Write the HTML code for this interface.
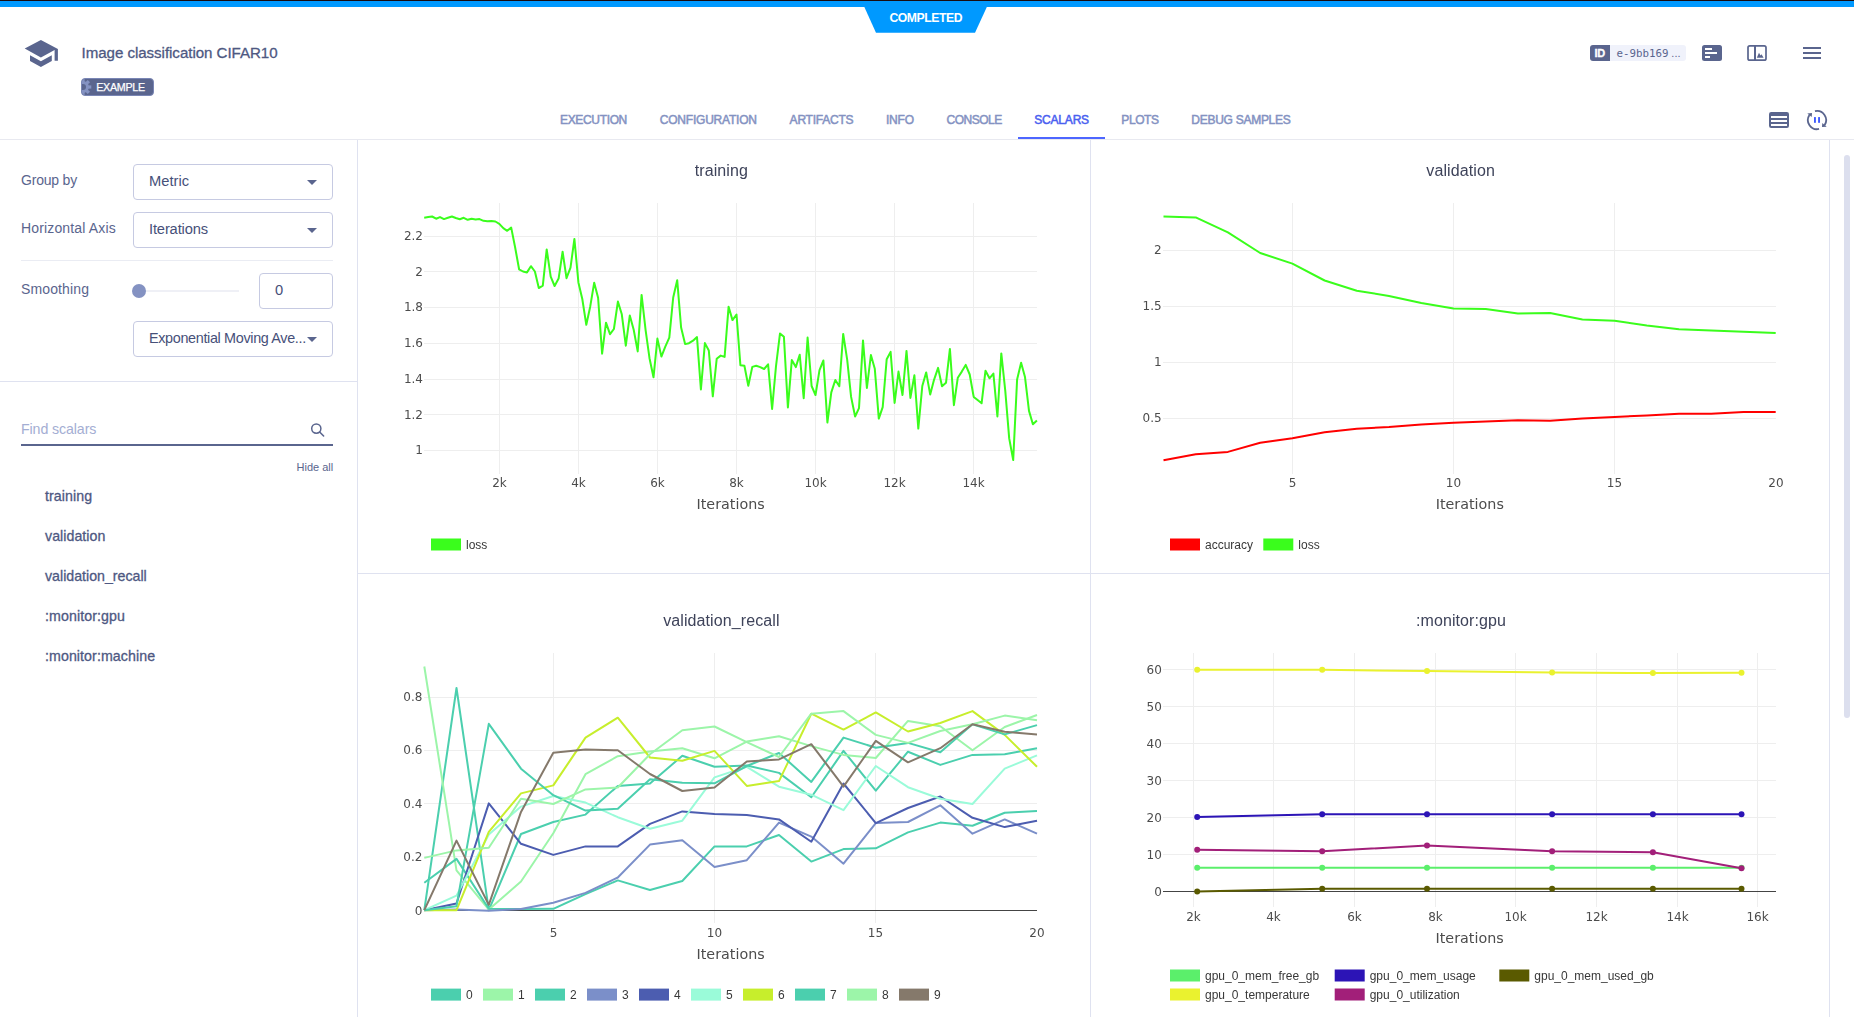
<!DOCTYPE html>
<html lang="en"><head><meta charset="utf-8"><title>Image classification CIFAR10 - Scalars</title>
<style>
html,body{margin:0;padding:0;background:#fff;}
body{width:1854px;height:1017px;position:relative;overflow:hidden;font-family:"Liberation Sans",Arial,sans-serif;color:#5a658e;}
.a{position:absolute;}
.t{position:absolute;white-space:nowrap;line-height:1;}
.ln{position:absolute;background:#dfe2f0;}
.tab{position:absolute;top:113.9px;font-size:12px;line-height:1;color:#8492c2;white-space:nowrap;-webkit-text-stroke:0.5px #8492c2;}
.tab.on{color:#4a5ff0;-webkit-text-stroke:0.5px #4a5ff0;}
.lbl{font-size:14px;color:#5a658e;}
.sel{position:absolute;box-sizing:border-box;border:1px solid #c6cae2;border-radius:4px;background:#fff;}
.sel .v{position:absolute;left:15px;font-size:14.7px;color:#465079;line-height:1;white-space:nowrap;}
.car{position:absolute;width:0;height:0;border-left:5px solid transparent;border-right:5px solid transparent;border-top:5px solid #5a658e;}
.it{font-size:14.2px;color:#4e5882;-webkit-text-stroke:0.3px #4e5882;}
svg text{font-family:"DejaVu Sans",Verdana,sans-serif;fill:#4c4c4c;}
svg text.lg{font-family:"Liberation Sans",Arial,sans-serif;font-size:12px;fill:#383838;}
svg text.ti{font-family:"Liberation Sans",Arial,sans-serif;font-size:16px;fill:#3e435a;letter-spacing:0.1px;}
</style></head><body>

<div class="a" style="left:0;top:0;width:1854px;height:1px;background:#1a0c10"></div>
<div class="a" style="left:0;top:1px;width:1854px;height:6px;background:#0099ff"></div>
<svg class="a" style="left:860px;top:6px" width="132" height="28" viewBox="860 6 132 28"><polygon points="863.9,6 987.3,6 975,32.8 876,32.8" fill="#0099ff"/></svg>
<div class="t" style="left:889.4px;top:12.2px;font-size:12.2px;font-weight:bold;color:#fff;letter-spacing:-0.42px" id="completed">COMPLETED</div>
<svg class="a" style="left:20px;top:36px" width="44" height="36" viewBox="20 36 44 36">
<polygon points="40.9,39.9 24.7,48.5 40.9,57.4 54.6,49.9 54.6,60.7 57.9,60.7 57.9,48.9" fill="#5a658e"/>
<polygon points="30,55.3 40.9,61.3 51.8,55.3 51.8,60.9 40.9,66.9 30,60.9" fill="#5a658e"/>
</svg>
<div class="t" id="title" style="left:81.5px;top:44.6px;font-size:15.1px;letter-spacing:-0.04px;color:#4e5882;-webkit-text-stroke:0.3px #4e5882">Image classification CIFAR10</div>
<div class="a" style="left:81px;top:78px;width:73px;height:18px;box-sizing:border-box;background:#5a658e;border:1px solid #7a86b5;border-radius:4px;overflow:hidden"><svg class="a" style="left:-9px;top:-2px" width="20" height="20" viewBox="-10 -10 20 20"><g fill="#8492c2"><circle r="5.9"/><rect x="-1.6" y="-8.3" width="3.2" height="3.6" transform="rotate(0)"/><rect x="-1.6" y="-8.3" width="3.2" height="3.6" transform="rotate(45)"/><rect x="-1.6" y="-8.3" width="3.2" height="3.6" transform="rotate(90)"/><rect x="-1.6" y="-8.3" width="3.2" height="3.6" transform="rotate(135)"/><rect x="-1.6" y="-8.3" width="3.2" height="3.6" transform="rotate(180)"/><rect x="-1.6" y="-8.3" width="3.2" height="3.6" transform="rotate(225)"/><rect x="-1.6" y="-8.3" width="3.2" height="3.6" transform="rotate(270)"/><rect x="-1.6" y="-8.3" width="3.2" height="3.6" transform="rotate(315)"/></g><circle r="3" fill="#5a658e"/></svg><div class="t" id="example" style="left:14.2px;top:2.9px;font-size:10.7px;letter-spacing:-0.27px;color:#fff;-webkit-text-stroke:0.25px #fff">EXAMPLE</div></div>
<div class="a" style="left:1590px;top:45px;width:20px;height:16px;background:#5a658e;border-radius:3px 0 0 3px"></div>
<div class="t" style="left:1594.6px;top:47.5px;font-size:11px;font-weight:bold;color:#fff;letter-spacing:-0.35px;-webkit-text-stroke:0.3px #fff">ID</div>
<div class="a" style="left:1610px;top:45px;width:76px;height:16px;background:#f0f2fb;border-radius:0 3px 3px 0"></div>
<div class="t" id="idtxt" style="left:1616.5px;top:47.7px;font-size:10.8px;font-family:'DejaVu Sans Mono','Liberation Mono',monospace;color:#5a658e">e-9bb169<span style="letter-spacing:0.1px;margin-left:2.8px;font-family:'Liberation Sans',sans-serif">...</span></div>
<svg class="a" style="left:1700px;top:40px" width="130" height="26" viewBox="1700 40 130 26">
<rect x="1702" y="45" width="20" height="16" rx="2.5" fill="#5a658e"/>
<rect x="1705" y="48" width="7" height="2" fill="#fff"/><rect x="1705" y="52" width="12" height="2" fill="#fff"/><rect x="1705" y="56" width="5" height="2" fill="#fff"/>
<rect x="1748" y="45.8" width="18" height="14.4" rx="1.8" fill="none" stroke="#5a658e" stroke-width="1.7"/>
<rect x="1754" y="46" width="2" height="14" fill="#5a658e"/>
<polygon points="1756.8,57.8 1759,52.8 1760.5,55.6 1761.5,54.2 1763.6,57.8" fill="#5a658e"/>
<rect x="1803" y="47" width="18" height="2" fill="#5a658e"/><rect x="1803" y="52" width="18" height="2" fill="#5a658e"/><rect x="1803" y="57" width="18" height="2" fill="#5a658e"/>
</svg>
<div class="tab" style="left:560.0px;letter-spacing:-0.34px">EXECUTION</div>
<div class="tab" style="left:659.8px;letter-spacing:-0.22px">CONFIGURATION</div>
<div class="tab" style="left:789.6px;letter-spacing:-0.22px">ARTIFACTS</div>
<div class="tab" style="left:885.9px;letter-spacing:-0.15px">INFO</div>
<div class="tab" style="left:946.6px;letter-spacing:-0.5px">CONSOLE</div>
<div class="tab on" style="left:1034.3px;letter-spacing:-0.2px">SCALARS</div>
<div class="tab" style="left:1121.3px;letter-spacing:-0.42px">PLOTS</div>
<div class="tab" style="left:1191.3px;letter-spacing:-0.27px">DEBUG SAMPLES</div>
<div class="a" style="left:1018px;top:137px;width:87px;height:2px;background:#4d66ff"></div>
<div class="ln" style="left:0;top:139px;width:1854px;height:1px;background:#e8e9f0"></div>
<svg class="a" style="left:1764px;top:106px" width="70" height="28" viewBox="1764 106 70 28">
<rect x="1769" y="112" width="20" height="16" rx="2.2" fill="#5a658e"/>
<rect x="1771" y="116" width="16" height="2" fill="#fff"/><rect x="1771" y="120" width="16" height="2" fill="#fff"/><rect x="1771" y="124" width="16" height="2" fill="#fff"/>
<g fill="none" stroke="#5a658e" stroke-width="1.8">
<path d="M1819.05,128.93 A9.1,9.1 0 0 1 1809.46,114.97"/>
<path d="M1814.95,111.19 A9.1,9.1 0 0 1 1824.54,125.15"/>
</g>
<polygon points="1807.3,113.4 1812.0,113.0 1811.7,117.0" fill="#5a658e"/>
<polygon points="1826.7,126.7 1822.0,127.1 1822.3,123.1" fill="#5a658e"/>
<rect x="1814" y="117.1" width="1.9" height="5.7" fill="#3d5afe"/><rect x="1818.1" y="117.1" width="1.9" height="5.7" fill="#3d5afe"/>
</svg>
<div class="ln" style="left:357px;top:140px;width:1px;height:877px"></div>
<div class="t lbl" style="left:21px;top:173.3px;letter-spacing:-0.2px">Group by</div>
<div class="sel" style="left:133px;top:164px;width:200px;height:36px"><div class="v" style="top:9.2px">Metric</div><div class="car" style="left:173px;top:14.7px"></div></div>
<div class="t lbl" style="left:21px;top:221.3px;letter-spacing:0.15px">Horizontal Axis</div>
<div class="sel" style="left:133px;top:212px;width:200px;height:36px"><div class="v" style="top:9.2px;letter-spacing:-0.15px">Iterations</div><div class="car" style="left:173px;top:14.7px"></div></div>
<div class="ln" style="left:21px;top:260px;width:312px;height:1px;background:#eaecf3"></div>
<div class="t lbl" style="left:21px;top:282.3px;letter-spacing:0.13px">Smoothing</div>
<div class="a" style="left:139px;top:290px;width:100px;height:2px;background:#eff0f6"></div>
<div class="a" style="left:132px;top:284px;width:14px;height:14px;border-radius:50%;background:#8492c2"></div>
<div class="sel" style="left:259px;top:273px;width:74px;height:36px"><div class="v" style="top:8.8px">0</div></div>
<div class="sel" style="left:133px;top:321px;width:200px;height:36px"><div class="v" style="top:9.4px;font-size:14.4px;letter-spacing:-0.34px">Exponential Moving Ave...</div><div class="car" style="left:173px;top:14.7px"></div></div>
<div class="ln" style="left:0;top:381px;width:357px;height:1px"></div>
<div class="t" style="left:21px;top:422px;font-size:14.2px;letter-spacing:-0.1px;color:#a4aed3">Find scalars</div>
<svg class="a" style="left:308px;top:420px" width="20" height="20" viewBox="308 420 20 20"><circle cx="316.3" cy="428.6" r="4.6" fill="none" stroke="#5a658e" stroke-width="1.5"/><path d="M319.6,432 L323.6,436" stroke="#5a658e" stroke-width="1.6" stroke-linecap="round"/></svg>
<div class="a" style="left:21px;top:444px;width:312px;height:2px;background:#5a658e"></div>
<div class="t" id="hideall" style="left:296.5px;top:462px;font-size:11px;color:#5a658e">Hide all</div>
<div class="t it" style="left:45px;top:489.2px;letter-spacing:0.08px">training</div>
<div class="t it" style="left:45px;top:529.2px;letter-spacing:0.04px">validation</div>
<div class="t it" style="left:45px;top:569.2px;letter-spacing:0px">validation_recall</div>
<div class="t it" style="left:45px;top:609.2px;letter-spacing:0.09px">:monitor:gpu</div>
<div class="t it" style="left:45px;top:649.2px;letter-spacing:0.08px">:monitor:machine</div>
<div class="ln" style="left:1090px;top:140px;width:1px;height:877px"></div>
<div class="ln" style="left:1829px;top:140px;width:1px;height:877px"></div>
<div class="ln" style="left:358px;top:573px;width:1471px;height:1px"></div>
<div class="a" style="left:1844px;top:155px;width:6px;height:563px;border-radius:3px;background:#dcdfee"></div>
<svg class="a" style="left:358px;top:140px;will-change:transform" width="1471" height="877" viewBox="358 140 1471 877">
<rect x="499" y="203" width="1" height="271.0" fill="#eee"/><rect x="578" y="203" width="1" height="271.0" fill="#eee"/><rect x="657" y="203" width="1" height="271.0" fill="#eee"/><rect x="736" y="203" width="1" height="271.0" fill="#eee"/><rect x="815" y="203" width="1" height="271.0" fill="#eee"/><rect x="894" y="203" width="1" height="271.0" fill="#eee"/><rect x="973" y="203" width="1" height="271.0" fill="#eee"/><rect x="424" y="236" width="613.0" height="1" fill="#eee"/><rect x="424" y="271" width="613.0" height="1" fill="#eee"/><rect x="424" y="307" width="613.0" height="1" fill="#eee"/><rect x="424" y="343" width="613.0" height="1" fill="#eee"/><rect x="424" y="379" width="613.0" height="1" fill="#eee"/><rect x="424" y="414" width="613.0" height="1" fill="#eee"/><rect x="424" y="450" width="613.0" height="1" fill="#eee"/>
<text x="423.0" y="240.0" font-size="12" text-anchor="end">2.2</text><text x="423.0" y="275.7" font-size="12" text-anchor="end">2</text><text x="423.0" y="311.4" font-size="12" text-anchor="end">1.8</text><text x="423.0" y="347.1" font-size="12" text-anchor="end">1.6</text><text x="423.0" y="382.8" font-size="12" text-anchor="end">1.4</text><text x="423.0" y="418.5" font-size="12" text-anchor="end">1.2</text><text x="423.0" y="454.2" font-size="12" text-anchor="end">1</text>
<text x="499.5" y="486.5" font-size="12" text-anchor="middle">2k</text><text x="578.5" y="486.5" font-size="12" text-anchor="middle">4k</text><text x="657.5" y="486.5" font-size="12" text-anchor="middle">6k</text><text x="736.5" y="486.5" font-size="12" text-anchor="middle">8k</text><text x="815.5" y="486.5" font-size="12" text-anchor="middle">10k</text><text x="894.5" y="486.5" font-size="12" text-anchor="middle">12k</text><text x="973.5" y="486.5" font-size="12" text-anchor="middle">14k</text>
<text x="730.6" y="509.3" font-size="14.3" text-anchor="middle">Iterations</text>
<text class="ti" x="721.3" y="176" text-anchor="middle">training</text>
<polyline points="424.2,217.8 428.2,217.1 432.1,216.5 436.1,218.7 440.0,217.1 444.0,219.1 447.9,217.8 451.9,216.5 455.8,218.0 459.8,219.2 463.7,217.8 467.7,219.8 471.6,218.7 475.6,219.5 479.5,219.1 483.5,220.8 487.4,221.2 491.4,220.9 495.4,221.5 499.3,223.8 503.3,228.2 507.2,230.8 511.2,227.6 515.1,247.2 519.1,269.3 523.0,271.5 527.0,272.4 530.9,266.2 534.9,271.5 538.8,288.1 542.8,285.6 546.7,249.4 550.7,276.6 554.6,286.0 558.6,278.6 562.6,251.7 566.5,278.2 570.5,267.7 574.4,238.9 578.4,282.4 582.3,299.0 586.3,324.8 590.2,306.7 594.2,282.7 598.1,297.7 602.1,353.7 606.0,322.7 610.0,334.2 613.9,329.0 617.9,301.6 621.8,314.3 625.8,345.7 629.8,315.4 633.7,329.7 637.7,351.4 641.6,294.9 645.6,330.1 649.5,358.2 653.5,377.3 657.4,338.6 661.4,356.6 665.3,346.7 669.3,337.7 673.2,297.5 677.2,280.2 681.1,327.5 685.1,344.1 689.0,343.2 693.0,340.7 697.0,337.1 700.9,389.5 704.9,343.1 708.8,350.5 712.8,396.3 716.7,358.8 720.7,355.6 724.6,356.9 728.6,306.7 732.5,320.1 736.5,314.5 740.4,365.2 744.4,365.8 748.3,385.7 752.3,366.9 756.2,365.8 760.2,367.1 764.1,369.0 768.1,364.3 772.1,409.0 776.0,366.2 780.0,333.4 783.9,336.8 787.9,407.4 791.8,360.1 795.8,367.1 799.7,354.7 803.7,398.2 807.6,337.5 811.6,386.0 815.5,395.0 819.5,370.1 823.4,360.5 827.4,422.5 831.3,392.4 835.3,380.0 839.3,386.3 843.2,333.9 847.2,359.8 851.1,396.9 855.1,416.5 859.0,408.1 863.0,340.4 866.9,388.0 870.9,355.0 874.8,368.8 878.8,418.6 882.7,407.1 886.7,359.2 890.6,351.9 894.6,403.0 898.5,371.6 902.5,395.0 906.5,350.9 910.4,397.9 914.4,375.2 918.3,428.6 922.3,386.0 926.2,372.4 930.2,394.6 934.1,379.6 938.1,367.9 942.0,386.3 946.0,382.8 949.9,348.9 953.9,405.2 957.8,377.7 961.8,371.6 965.7,364.9 969.7,374.5 973.7,396.9 977.6,400.1 981.6,403.3 985.5,370.7 989.5,378.3 993.4,373.6 997.4,416.4 1001.3,353.4 1005.3,391.1 1009.2,438.4 1013.2,460.1 1017.1,379.6 1021.1,362.7 1025.0,377.1 1029.0,410.9 1032.9,424.3 1036.9,420.5" fill="none" stroke="#3afd1c" stroke-width="2" stroke-linejoin="round"/>
<rect x="431" y="538.5" width="30" height="12" fill="#3afd1c"/><text class="lg" x="466" y="548.8">loss</text>
<rect x="1292" y="203" width="1" height="271.0" fill="#eee"/><rect x="1453" y="203" width="1" height="271.0" fill="#eee"/><rect x="1614" y="203" width="1" height="271.0" fill="#eee"/><rect x="1163" y="250" width="613.0" height="1" fill="#eee"/><rect x="1163" y="306" width="613.0" height="1" fill="#eee"/><rect x="1163" y="362" width="613.0" height="1" fill="#eee"/><rect x="1163" y="418" width="613.0" height="1" fill="#eee"/>
<text x="1161.7" y="254.0" font-size="12" text-anchor="end">2</text><text x="1161.7" y="310.0" font-size="12" text-anchor="end">1.5</text><text x="1161.7" y="366.0" font-size="12" text-anchor="end">1</text><text x="1161.7" y="422.0" font-size="12" text-anchor="end">0.5</text>
<text x="1292.5" y="486.5" font-size="12" text-anchor="middle">5</text><text x="1453.5" y="486.5" font-size="12" text-anchor="middle">10</text><text x="1614.5" y="486.5" font-size="12" text-anchor="middle">15</text><text x="1776.0" y="486.5" font-size="12" text-anchor="middle">20</text>
<text x="1469.8" y="509.3" font-size="14.3" text-anchor="middle">Iterations</text>
<text class="ti" x="1460.6" y="176" text-anchor="middle">validation</text>
<polyline points="1163.5,460.3 1195.7,454.2 1227.9,451.9 1260.2,442.7 1292.4,438.2 1324.6,432.3 1356.8,428.7 1389.0,427.0 1421.3,424.5 1453.5,422.8 1485.7,421.4 1517.9,420.3 1550.1,420.8 1582.4,418.6 1614.6,416.9 1646.8,415.5 1679.0,413.8 1711.2,413.8 1743.5,411.9 1775.7,412.1" fill="none" stroke="#ff0000" stroke-width="2" stroke-linejoin="round"/><polyline points="1163.5,216.6 1195.7,217.4 1227.9,232.3 1260.2,253.0 1292.4,263.6 1324.6,280.5 1356.8,290.8 1389.0,295.9 1421.3,302.9 1453.5,308.5 1485.7,309.0 1517.9,313.5 1550.1,313.0 1582.4,319.4 1614.6,320.8 1646.8,325.6 1679.0,329.2 1711.2,330.6 1743.5,331.7 1775.7,333.1" fill="none" stroke="#3afd1c" stroke-width="2" stroke-linejoin="round"/>
<rect x="1170" y="538.5" width="30" height="12" fill="#ff0000"/><text class="lg" x="1205" y="548.8">accuracy</text><rect x="1263.3" y="538.5" width="30" height="12" fill="#3afd1c"/><text class="lg" x="1298.3" y="548.8">loss</text>
<rect x="553" y="653" width="1" height="270.0" fill="#eee"/><rect x="714" y="653" width="1" height="270.0" fill="#eee"/><rect x="875" y="653" width="1" height="270.0" fill="#eee"/><rect x="424" y="697" width="613.0" height="1" fill="#eee"/><rect x="424" y="750" width="613.0" height="1" fill="#eee"/><rect x="424" y="803" width="613.0" height="1" fill="#eee"/><rect x="424" y="856" width="613.0" height="1" fill="#eee"/>
<rect x="424" y="910" width="613" height="1" fill="#444"/>
<text x="422.4" y="700.9" font-size="12" text-anchor="end">0.8</text><text x="422.4" y="754.3" font-size="12" text-anchor="end">0.6</text><text x="422.4" y="807.8" font-size="12" text-anchor="end">0.4</text><text x="422.4" y="861.2" font-size="12" text-anchor="end">0.2</text><text x="422.4" y="914.7" font-size="12" text-anchor="end">0</text>
<text x="553.5" y="937" font-size="12" text-anchor="middle">5</text><text x="714.5" y="937" font-size="12" text-anchor="middle">10</text><text x="875.5" y="937" font-size="12" text-anchor="middle">15</text><text x="1037.0" y="937" font-size="12" text-anchor="middle">20</text>
<text x="730.6" y="958.8" font-size="14.3" text-anchor="middle">Iterations</text>
<text class="ti" x="721.4" y="626" text-anchor="middle">validation_recall</text>
<polyline points="424.3,910.2 456.5,688.0 488.8,910.2 521.0,834.0 553.3,822.0 585.5,814.6 617.8,785.9 650.0,783.5 682.3,755.7 714.5,766.8 746.8,765.5 779.0,772.9 811.3,797.3 843.5,750.9 875.8,790.7 908.0,751.7 940.3,764.9 972.5,754.9 1004.7,754.3 1037.0,748.2" fill="none" stroke="#4bcfae" stroke-width="2" stroke-linejoin="round"/>
<polyline points="424.3,666.5 456.5,870.3 488.8,909.6 521.0,881.5 553.3,833.2 585.5,774.2 617.8,756.2 650.0,751.4 682.3,748.2 714.5,758.3 746.8,741.6 779.0,736.3 811.3,746.1 843.5,754.9 875.8,758.0 908.0,720.9 940.3,726.2 972.5,750.3 1004.7,727.0 1037.0,715.0" fill="none" stroke="#9cf5a9" stroke-width="2" stroke-linejoin="round"/>
<polyline points="424.3,882.8 456.5,858.9 488.8,908.8 521.0,909.1 553.3,908.8 585.5,894.2 617.8,880.4 650.0,890.0 682.3,881.0 714.5,846.4 746.8,846.4 779.0,835.0 811.3,861.6 843.5,849.1 875.8,848.3 908.0,832.4 940.3,822.6 972.5,825.7 1004.7,812.7 1037.0,811.1" fill="none" stroke="#4bcfae" stroke-width="2" stroke-linejoin="round"/>
<polyline points="424.3,910.2 456.5,909.6 488.8,910.7 521.0,909.1 553.3,902.7 585.5,892.9 617.8,877.5 650.0,844.6 682.3,840.3 714.5,866.9 746.8,860.2 779.0,822.6 811.3,836.6 843.5,863.7 875.8,823.1 908.0,822.0 940.3,805.3 972.5,833.7 1004.7,819.4 1037.0,833.7" fill="none" stroke="#7b8fc9" stroke-width="2" stroke-linejoin="round"/>
<polyline points="424.3,910.2 456.5,903.5 488.8,803.4 521.0,843.8 553.3,854.9 585.5,846.4 617.8,846.4 650.0,823.9 682.3,811.4 714.5,814.1 746.8,815.1 779.0,819.4 811.3,841.7 843.5,783.5 875.8,823.1 908.0,808.0 940.3,796.5 972.5,817.8 1004.7,827.1 1037.0,820.7" fill="none" stroke="#4c5db0" stroke-width="2" stroke-linejoin="round"/>
<polyline points="424.3,910.2 456.5,895.6 488.8,834.5 521.0,806.6 553.3,796.0 585.5,802.6 617.8,817.2 650.0,828.7 682.3,820.7 714.5,777.4 746.8,766.8 779.0,786.7 811.3,794.7 843.5,810.1 875.8,766.0 908.0,787.2 940.3,798.7 972.5,804.0 1004.7,768.7 1037.0,755.4" fill="none" stroke="#9afbd9" stroke-width="2" stroke-linejoin="round"/>
<polyline points="424.3,910.2 456.5,910.2 488.8,831.8 521.0,793.4 553.3,785.4 585.5,737.6 617.8,717.7 650.0,757.5 682.3,760.7 714.5,750.9 746.8,785.9 779.0,781.1 811.3,713.7 843.5,729.6 875.8,712.4 908.0,731.5 940.3,723.0 972.5,711.1 1004.7,734.9 1037.0,766.8" fill="none" stroke="#c7ee2c" stroke-width="2" stroke-linejoin="round"/>
<polyline points="424.3,910.2 456.5,906.2 488.8,723.8 521.0,768.7 553.3,795.2 585.5,810.6 617.8,808.7 650.0,779.3 682.3,782.7 714.5,783.3 746.8,766.0 779.0,753.0 811.3,781.9 843.5,737.6 875.8,747.7 908.0,742.9 940.3,752.2 972.5,724.3 1004.7,734.4 1037.0,725.1" fill="none" stroke="#4bcfae" stroke-width="2" stroke-linejoin="round"/>
<polyline points="424.3,857.9 456.5,850.4 488.8,847.8 521.0,798.7 553.3,804.0 585.5,789.4 617.8,787.5 650.0,754.3 682.3,730.2 714.5,726.5 746.8,742.1 779.0,757.0 811.3,713.7 843.5,711.1 875.8,734.9 908.0,742.9 940.3,731.0 972.5,724.3 1004.7,715.6 1037.0,720.3" fill="none" stroke="#9cf5a9" stroke-width="2" stroke-linejoin="round"/>
<polyline points="424.3,910.2 456.5,840.6 488.8,904.8 521.0,811.9 553.3,752.7 585.5,749.5 617.8,750.3 650.0,774.0 682.3,791.0 714.5,787.5 746.8,761.5 779.0,759.4 811.3,744.2 843.5,786.7 875.8,740.8 908.0,762.3 940.3,748.2 972.5,724.3 1004.7,731.8 1037.0,734.4" fill="none" stroke="#85796b" stroke-width="2" stroke-linejoin="round"/>
<rect x="431" y="988.6" width="30" height="12" fill="#4bcfae"/><text class="lg" x="466" y="998.9">0</text>
<rect x="483" y="988.6" width="30" height="12" fill="#9cf5a9"/><text class="lg" x="518" y="998.9">1</text>
<rect x="535" y="988.6" width="30" height="12" fill="#4bcfae"/><text class="lg" x="570" y="998.9">2</text>
<rect x="587" y="988.6" width="30" height="12" fill="#7b8fc9"/><text class="lg" x="622" y="998.9">3</text>
<rect x="639" y="988.6" width="30" height="12" fill="#4c5db0"/><text class="lg" x="674" y="998.9">4</text>
<rect x="691" y="988.6" width="30" height="12" fill="#9afbd9"/><text class="lg" x="726" y="998.9">5</text>
<rect x="743" y="988.6" width="30" height="12" fill="#c7ee2c"/><text class="lg" x="778" y="998.9">6</text>
<rect x="795" y="988.6" width="30" height="12" fill="#4bcfae"/><text class="lg" x="830" y="998.9">7</text>
<rect x="847" y="988.6" width="30" height="12" fill="#9cf5a9"/><text class="lg" x="882" y="998.9">8</text>
<rect x="899" y="988.6" width="30" height="12" fill="#85796b"/><text class="lg" x="934" y="998.9">9</text>
<rect x="1193" y="653" width="1" height="254.0" fill="#eee"/><rect x="1273" y="653" width="1" height="254.0" fill="#eee"/><rect x="1354" y="653" width="1" height="254.0" fill="#eee"/><rect x="1435" y="653" width="1" height="254.0" fill="#eee"/><rect x="1515" y="653" width="1" height="254.0" fill="#eee"/><rect x="1596" y="653" width="1" height="254.0" fill="#eee"/><rect x="1677" y="653" width="1" height="254.0" fill="#eee"/><rect x="1757" y="653" width="1" height="254.0" fill="#eee"/><rect x="1163" y="669" width="613.0" height="1" fill="#eee"/><rect x="1163" y="706" width="613.0" height="1" fill="#eee"/><rect x="1163" y="743" width="613.0" height="1" fill="#eee"/><rect x="1163" y="780" width="613.0" height="1" fill="#eee"/><rect x="1163" y="817" width="613.0" height="1" fill="#eee"/><rect x="1163" y="854" width="613.0" height="1" fill="#eee"/>
<rect x="1163" y="891" width="613" height="1" fill="#444"/>
<text x="1161.8" y="673.7" font-size="12" text-anchor="end">60</text><text x="1161.8" y="710.7" font-size="12" text-anchor="end">50</text><text x="1161.8" y="747.7" font-size="12" text-anchor="end">40</text><text x="1161.8" y="784.7" font-size="12" text-anchor="end">30</text><text x="1161.8" y="821.7" font-size="12" text-anchor="end">20</text><text x="1161.8" y="858.7" font-size="12" text-anchor="end">10</text><text x="1161.8" y="895.7" font-size="12" text-anchor="end">0</text>
<text x="1193.5" y="921" font-size="12" text-anchor="middle">2k</text><text x="1273.5" y="921" font-size="12" text-anchor="middle">4k</text><text x="1354.5" y="921" font-size="12" text-anchor="middle">6k</text><text x="1435.5" y="921" font-size="12" text-anchor="middle">8k</text><text x="1515.5" y="921" font-size="12" text-anchor="middle">10k</text><text x="1596.5" y="921" font-size="12" text-anchor="middle">12k</text><text x="1677.5" y="921" font-size="12" text-anchor="middle">14k</text><text x="1757.5" y="921" font-size="12" text-anchor="middle">16k</text>
<text x="1469.6" y="943" font-size="14.3" text-anchor="middle">Iterations</text>
<text class="ti" x="1461" y="626" text-anchor="middle">:monitor:gpu</text>
<polyline points="1197.2,867.8 1322.2,867.8 1427.0,867.8 1552.1,867.8 1652.9,867.8 1741.5,867.8" fill="none" stroke="#5bef6b" stroke-width="2" stroke-linejoin="round"/>
<circle cx="1197.2" cy="867.8" r="3" fill="#5bef6b"/><circle cx="1322.2" cy="867.8" r="3" fill="#5bef6b"/><circle cx="1427.0" cy="867.8" r="3" fill="#5bef6b"/><circle cx="1552.1" cy="867.8" r="3" fill="#5bef6b"/><circle cx="1652.9" cy="867.8" r="3" fill="#5bef6b"/><circle cx="1741.5" cy="867.8" r="3" fill="#5bef6b"/>
<polyline points="1197.2,817.0 1322.2,814.2 1427.0,814.2 1552.1,814.2 1652.9,814.2 1741.5,814.2" fill="none" stroke="#2c14b6" stroke-width="2" stroke-linejoin="round"/>
<circle cx="1197.2" cy="817.0" r="3" fill="#2c14b6"/><circle cx="1322.2" cy="814.2" r="3" fill="#2c14b6"/><circle cx="1427.0" cy="814.2" r="3" fill="#2c14b6"/><circle cx="1552.1" cy="814.2" r="3" fill="#2c14b6"/><circle cx="1652.9" cy="814.2" r="3" fill="#2c14b6"/><circle cx="1741.5" cy="814.2" r="3" fill="#2c14b6"/>
<polyline points="1197.2,891.6 1322.2,888.8 1427.0,888.8 1552.1,888.8 1652.9,888.8 1741.5,888.8" fill="none" stroke="#5a5a00" stroke-width="2" stroke-linejoin="round"/>
<circle cx="1197.2" cy="891.6" r="3" fill="#5a5a00"/><circle cx="1322.2" cy="888.8" r="3" fill="#5a5a00"/><circle cx="1427.0" cy="888.8" r="3" fill="#5a5a00"/><circle cx="1552.1" cy="888.8" r="3" fill="#5a5a00"/><circle cx="1652.9" cy="888.8" r="3" fill="#5a5a00"/><circle cx="1741.5" cy="888.8" r="3" fill="#5a5a00"/>
<polyline points="1197.2,669.7 1322.2,669.7 1427.0,671.1 1552.1,672.5 1652.9,673.0 1741.5,672.7" fill="none" stroke="#eaf22f" stroke-width="2" stroke-linejoin="round"/>
<circle cx="1197.2" cy="669.7" r="3" fill="#eaf22f"/><circle cx="1322.2" cy="669.7" r="3" fill="#eaf22f"/><circle cx="1427.0" cy="671.1" r="3" fill="#eaf22f"/><circle cx="1552.1" cy="672.5" r="3" fill="#eaf22f"/><circle cx="1652.9" cy="673.0" r="3" fill="#eaf22f"/><circle cx="1741.5" cy="672.7" r="3" fill="#eaf22f"/>
<polyline points="1197.2,849.8 1322.2,851.2 1427.0,845.6 1552.1,851.2 1652.9,852.3 1741.5,868.3" fill="none" stroke="#a21f79" stroke-width="2" stroke-linejoin="round"/>
<circle cx="1197.2" cy="849.8" r="3" fill="#a21f79"/><circle cx="1322.2" cy="851.2" r="3" fill="#a21f79"/><circle cx="1427.0" cy="845.6" r="3" fill="#a21f79"/><circle cx="1552.1" cy="851.2" r="3" fill="#a21f79"/><circle cx="1652.9" cy="852.3" r="3" fill="#a21f79"/><circle cx="1741.5" cy="868.3" r="3" fill="#a21f79"/>
<rect x="1170" y="969.5" width="30" height="12" fill="#5bef6b"/><text class="lg" x="1205" y="979.8">gpu_0_mem_free_gb</text>
<rect x="1334.7" y="969.5" width="30" height="12" fill="#2c14b6"/><text class="lg" x="1369.7" y="979.8">gpu_0_mem_usage</text>
<rect x="1499.3" y="969.5" width="30" height="12" fill="#5a5a00"/><text class="lg" x="1534.3" y="979.8">gpu_0_mem_used_gb</text>
<rect x="1170" y="988.5" width="30" height="12" fill="#eaf22f"/><text class="lg" x="1205" y="998.8">gpu_0_temperature</text>
<rect x="1334.7" y="988.5" width="30" height="12" fill="#a21f79"/><text class="lg" x="1369.7" y="998.8">gpu_0_utilization</text>
</svg>
</body></html>
